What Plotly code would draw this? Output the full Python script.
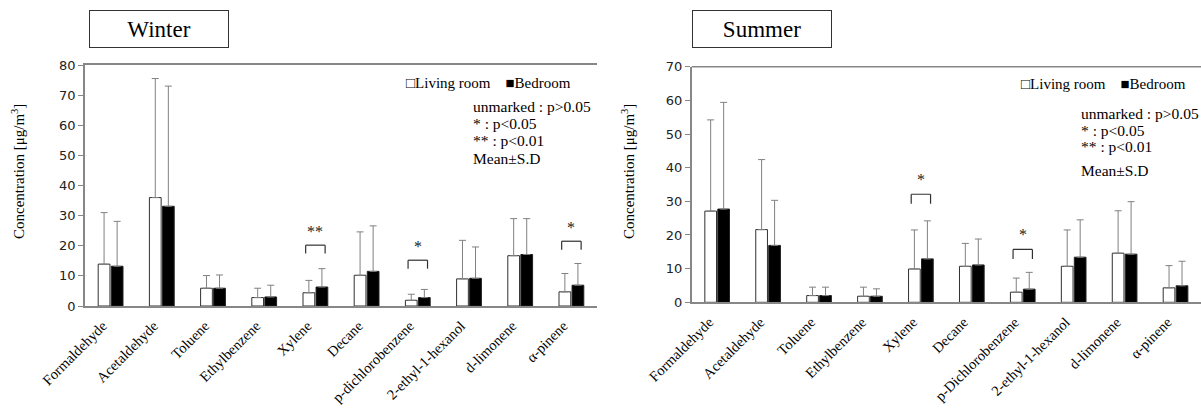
import plotly.graph_objects as go

categories_winter = ["Formaldehyde", "Acetaldehyde", "Toluene", "Ethylbenzene", "Xylene",
                     "Decane", "p-dichlorobenzene", "2-ethyl-1-hexanol", "d-limonene", "α-pinene"]
categories_summer = ["Formaldehyde", "Acetaldehyde", "Toluene", "Ethylbenzene", "Xylene",
                     "Decane", "p-Dichlorobenzene", "2-ethyl-1-hexanol", "d-limonene", "α-pinene"]

winter_living = [13.9, 36.0, 5.9, 2.8, 4.4, 10.2, 1.9, 9.0, 16.7, 4.7]
winter_living_sd = [17.1, 39.5, 4.2, 3.1, 4.1, 14.4, 2.0, 12.8, 12.3, 6.1]
winter_bed = [13.2, 33.1, 5.9, 3.0, 6.3, 11.5, 2.8, 9.2, 17.1, 6.9]
winter_bed_sd = [14.9, 39.9, 4.4, 3.9, 6.1, 15.1, 2.7, 10.4, 11.9, 7.2]

summer_living = [27.1, 21.6, 2.0, 1.8, 9.9, 10.7, 3.0, 10.7, 14.6, 4.3]
summer_living_sd = [27.1, 20.8, 2.5, 2.7, 11.6, 6.8, 4.2, 10.8, 12.6, 6.6]
summer_bed = [27.7, 16.9, 2.0, 1.8, 12.9, 11.1, 3.9, 13.4, 14.3, 4.9]
summer_bed_sd = [31.7, 13.4, 2.5, 2.2, 11.3, 7.7, 5.0, 11.1, 15.6, 7.3]

# significance marks: (category index, bracket top value, label)
winter_sig = [(4, 20.2, "**"), (6, 15.2, "*"), (9, 21.5, "*")]
summer_sig = [(4, 32.1, "*"), (6, 15.7, "*")]

W, H = 1201, 409
SERIF = "Liberation Serif, Times New Roman, serif"
SANS = "DejaVu Sans, Verdana, sans-serif"
AX = "#878787"
ERR = "#808080"

def px(x):
    return x / W

def py(y):
    return 1 - y / H

fig = go.Figure()

def add_panel(cats, liv, liv_sd, bed, bed_sd, xa, ya):
    fig.add_trace(go.Bar(
        x=cats, y=liv, xaxis=xa, yaxis=ya, name="Living room", showlegend=False,
        marker=dict(color="white", line=dict(color="#303030", width=1)),
        error_y=dict(type="data", array=liv_sd, arrayminus=[0] * len(liv), symmetric=False,
                     color=ERR, thickness=1, width=3.5)))
    fig.add_trace(go.Bar(
        x=cats, y=bed, xaxis=xa, yaxis=ya, name="Bedroom", showlegend=False,
        marker=dict(color="black", line=dict(color="#202020", width=1)),
        error_y=dict(type="data", array=bed_sd, arrayminus=[0] * len(bed), symmetric=False,
                     color=ERR, thickness=1, width=3.5)))

add_panel(categories_winter, winter_living, winter_living_sd, winter_bed, winter_bed_sd, "x", "y")
add_panel(categories_summer, summer_living, summer_living_sd, summer_bed, summer_bed_sd, "x2", "y2")

xcommon = dict(type="category", showline=True, linecolor=AX, linewidth=1.5, ticks="",
               tickangle=-45, tickfont=dict(family=SERIF, size=14.5, color="black"),
               ticklabelshift=-8, ticklabelstandoff=4,
               showgrid=False, zeroline=False, automargin=False)
ycommon = dict(showline=True, linecolor=AX, linewidth=1.5, ticks="outside", ticklen=5, tickcolor=AX,
               tickfont=dict(family=SANS, size=13, color="#222"), showgrid=False, zeroline=False,
               automargin=False, dtick=10)
fig.update_layout(
    width=W, height=H, margin=dict(l=0, r=0, t=0, b=0, autoexpand=False),
    paper_bgcolor="white", plot_bgcolor="white",
    barmode="group", bargap=0.49, bargroupgap=0.1,
    xaxis=dict(domain=[px(85), px(597)], anchor="y", mirror=True, range=[-0.5, 9.5], **xcommon),
    xaxis2=dict(domain=[px(691.7), 1.0], anchor="y2", range=[-0.5, 9.5], **xcommon),
    yaxis=dict(domain=[py(306), py(65)], anchor="x", range=[0, 80], **ycommon),
    yaxis2=dict(domain=[py(302.3), py(66.7)], anchor="x2", range=[0, 70], **ycommon),
)

# top border line of right panel
fig.add_shape(type="line", xref="paper", yref="paper", x0=px(691.7), x1=1.0, y0=py(66.7), y1=py(66.7),
              line=dict(color=AX, width=1.5))

ann = []

def add_sig(sigs, xr, yr):
    for (i, top, lab) in sigs:
        x0, x1 = i - 0.19, i + 0.19
        leg = 2.8
        for (a, b, c, d) in [(x0, top - leg, x0, top), (x0, top, x1, top), (x1, top, x1, top - leg)]:
            fig.add_shape(type="line", xref=xr, yref=yr, x0=a, y0=b, x1=c, y1=d,
                          line=dict(color="#303030", width=1.2))
        ann.append(dict(x=i, y=top + 1.2, xref=xr, yref=yr, text=lab, showarrow=False,
                        yanchor="bottom", font=dict(family=SERIF, size=16, color="#222")))

add_sig(winter_sig, "x", "y")
add_sig(summer_sig, "x2", "y2")

def title_box(cx, cy, text):
    ann.append(dict(x=px(cx), y=py(cy), xref="paper", yref="paper", text=text, showarrow=False,
                    xanchor="center", yanchor="middle", width=134, height=32,
                    bordercolor="#333", borderwidth=1, borderpad=2,
                    font=dict(family=SERIF, size=23, color="black")))

title_box(159, 28.5, "Winter")
title_box(762, 28.5, "Summer")

def ytitle(cx, cy):
    ann.append(dict(x=px(cx), y=py(cy), xref="paper", yref="paper",
                    text="Concentration [μg/m<sup>3</sup>]", showarrow=False, textangle=-90,
                    xanchor="center", yanchor="middle", font=dict(family=SERIF, size=15, color="black")))

ytitle(18, 172)
ytitle(628, 172)

def legend_block(xr_right, ylegend, xl, ys):
    ann.append(dict(x=px(xr_right), y=py(ylegend), xref="paper", yref="paper",
                    text="□Living room    ■Bedroom", showarrow=False, xanchor="right", yanchor="middle",
                    font=dict(family=SERIF, size=15, color="black")))
    lines = ["unmarked : p>0.05", "* : p<0.05", "** : p<0.01", "Mean±S.D"]
    for t, yy in zip(lines, ys):
        ann.append(dict(x=px(xl), y=py(yy), xref="paper", yref="paper", text=t.replace("<", "&lt;").replace(">", "&gt;"),
                        showarrow=False, xanchor="left", yanchor="middle",
                        font=dict(family=SERIF, size=15.5, color="black")))

legend_block(573, 82.7, 470.7, [106.7, 123.3, 140, 158.3])
legend_block(1188, 84, 1079, [113.3, 130, 146.7, 170])

fig.update_layout(annotations=ann)
fig.write_html("out.html")
